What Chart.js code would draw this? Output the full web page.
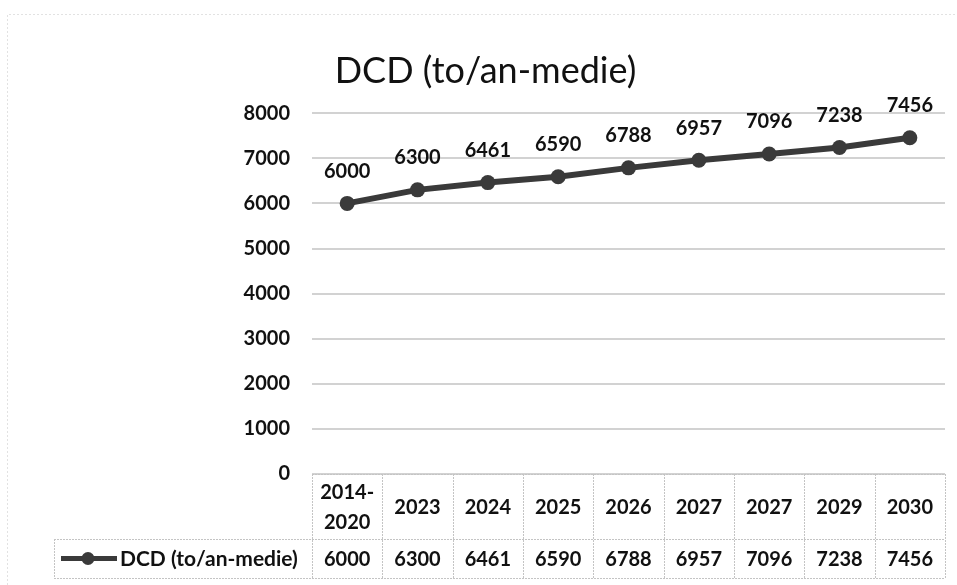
<!DOCTYPE html>
<html>
<head>
<meta charset="utf-8">
<script src="https://cdn.jsdelivr.net/npm/chart.js@4.4.0/dist/chart.umd.min.js"></script>
<style>
html,body{margin:0;padding:0;background:#fff;}
#wrap{width:957px;height:585px;position:relative;}
</style>
</head>
<body>
<div id="wrap"><canvas id="c" width="957" height="585"></canvas></div>
<script>
const categories = ["2014-2020","2023","2024","2025","2026","2027","2027","2029","2030"];
const categoryLines = [["2014-","2020"],["2023"],["2024"],["2025"],["2026"],["2027"],["2027"],["2029"],["2030"]];
const dcdValues = [6000,6300,6461,6590,6788,6957,7096,7238,7456];
const seriesName = "DCD (to/an-medie)";
const yTicks = [0,1000,2000,3000,4000,5000,6000,7000,8000];

const FONT = "Lato, 'Open Sans', sans-serif";
const LINE_COLOR = "#3a3a3a";
const TEXT_COLOR = "#111";
const GRID_COLOR = "#d2d2d2";

const framePlugin = {
  id: 'frame',
  beforeDraw(chart) {
    const ctx = chart.ctx;
    ctx.save();
    ctx.fillStyle = '#fff';
    ctx.fillRect(0,0,chart.width,chart.height);
    ctx.strokeStyle = '#e2e2e2';
    ctx.lineWidth = 1;
    ctx.setLineDash([2,2]);
    ctx.beginPath();
    ctx.moveTo(7.5, 585); ctx.lineTo(7.5, 14.5); ctx.lineTo(957, 14.5);
    ctx.stroke();
    ctx.restore();
  }
};

const labelPlugin = {
  id: 'pointLabels',
  afterDatasetsDraw(chart) {
    const ctx = chart.ctx;
    const meta = chart.getDatasetMeta(0);
    const data = chart.data.datasets[0].data;
    ctx.save();
    ctx.font = "bold 20px " + FONT;
    ctx.fillStyle = TEXT_COLOR;
    ctx.textAlign = 'center';
    ctx.textBaseline = 'middle';
    meta.data.forEach((pt, i) => {
      ctx.fillText(String(data[i]), pt.x, pt.y - 32);
    });
    ctx.restore();
  }
};

const tablePlugin = {
  id: 'dataTable',
  afterDraw(chart) {
    const ctx = chart.ctx;
    const xs = chart.scales.x;
    const area = chart.chartArea;
    const ds = chart.data.datasets[0];
    const n = chart.data.labels.length;
    const colW = (area.right - area.left) / n;
    const top = area.bottom;
    const row1 = top + 65;
    const row2 = row1 + 39;
    const legendLeft = 54;
    ctx.save();
    ctx.strokeStyle = '#c4c4c4';
    ctx.lineWidth = 1;
    ctx.setLineDash([2,1]);
    ctx.beginPath();
    ctx.moveTo(area.left, top + 0.5); ctx.lineTo(area.right, top + 0.5);
    ctx.moveTo(legendLeft, row1 + 0.5); ctx.lineTo(area.right, row1 + 0.5);
    ctx.moveTo(legendLeft, row2 + 0.5); ctx.lineTo(area.right, row2 + 0.5);
    for (let i = 0; i <= n; i++) {
      const x = Math.round(xs.getPixelForValue(i) - colW / 2) + 0.5;
      ctx.moveTo(x, top); ctx.lineTo(x, row2);
    }
    ctx.moveTo(legendLeft + 0.5, row1); ctx.lineTo(legendLeft + 0.5, row2);
    ctx.stroke();
    ctx.setLineDash([]);

    ctx.font = "bold 20px " + FONT;
    ctx.fillStyle = TEXT_COLOR;
    ctx.textAlign = 'center';
    ctx.textBaseline = 'middle';
    for (let i = 0; i < n; i++) {
      const cx = xs.getPixelForValue(i);
      const lines = categoryLines[i];
      const mid = (top + row1) / 2 + 1;
      const lh = 30;
      lines.forEach((t, k) => {
        ctx.fillText(t, cx, mid + (k - (lines.length - 1) / 2) * lh);
      });
      ctx.fillText(String(ds.data[i]), cx, (row1 + row2) / 2 + 1);
    }
    const ly = (row1 + row2) / 2;
    ctx.strokeStyle = LINE_COLOR;
    ctx.lineWidth = 5;
    ctx.beginPath();
    ctx.moveTo(61, ly); ctx.lineTo(117, ly);
    ctx.stroke();
    ctx.fillStyle = LINE_COLOR;
    ctx.beginPath();
    ctx.arc(88, ly, 6.5, 0, Math.PI * 2);
    ctx.fill();
    ctx.fillStyle = TEXT_COLOR;
    ctx.textAlign = 'left';
    ctx.font = "bold 21px " + FONT;
    ctx.fillText(ds.label, 120, ly + 1);
    ctx.restore();
  }
};

new Chart(document.getElementById('c'), {
  type: 'line',
  data: {
    labels: categories,
    datasets: [{
      label: seriesName,
      data: dcdValues,
      borderColor: LINE_COLOR,
      backgroundColor: LINE_COLOR,
      borderWidth: 6,
      pointRadius: 7.5,
      pointBackgroundColor: LINE_COLOR,
      pointBorderColor: LINE_COLOR,
      pointBorderWidth: 0,
      tension: 0
    }]
  },
  options: {
    responsive: false,
    animation: false,
    devicePixelRatio: 1,
    layout: { padding: { left: 26, right: 12, top: 0, bottom: 0 } },
    plugins: {
      legend: { display: false },
      tooltip: { enabled: false },
      title: {
        display: true,
        text: seriesName,
        color: TEXT_COLOR,
        font: { family: FONT, size: 36, weight: 'normal' },
        padding: { top: 50, bottom: 20 }
      }
    },
    scales: {
      x: {
        type: 'category',
        offset: true,
        grid: { display: false, drawTicks: false },
        border: { display: false },
        ticks: { display: false },
        afterFit(scale) { scale.height = 111; }
      },
      y: {
        min: 0,
        max: 8000,
        afterBuildTicks(scale) { scale.ticks = yTicks.map(v => ({ value: v })); },
        grid: { color: GRID_COLOR, lineWidth: 2, drawTicks: false },
        border: { display: false },
        ticks: {
          color: TEXT_COLOR,
          padding: 22,
          font: { family: FONT, size: 20, weight: 'bold' },
          callback: (v) => String(v)
        },
        afterFit(scale) { scale.width = 286; }
      }
    }
  },
  plugins: [framePlugin, labelPlugin, tablePlugin]
});
</script>
</body>
</html>
